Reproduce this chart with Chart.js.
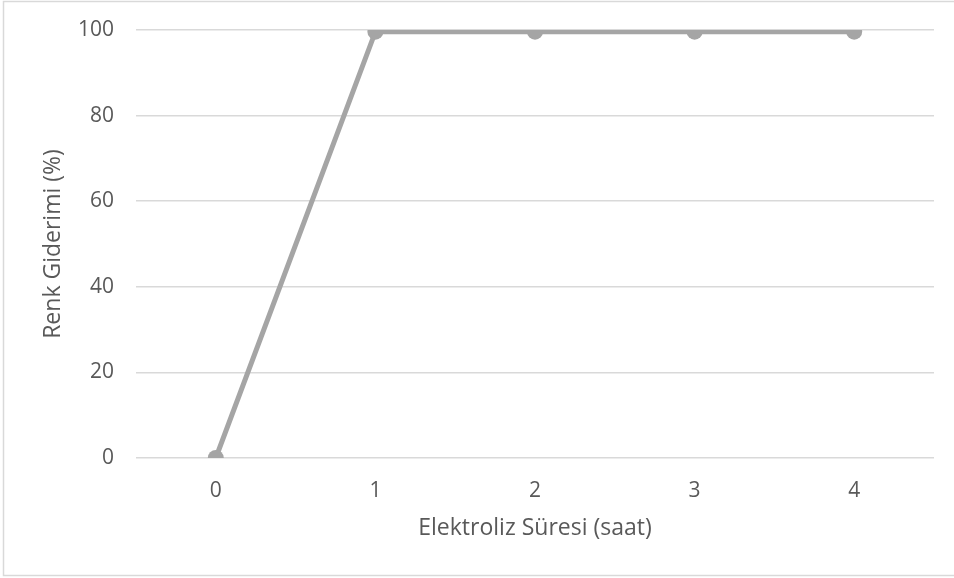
<!DOCTYPE html>
<html>
<head>
<meta charset="utf-8">
<script src="https://cdn.jsdelivr.net/npm/chart.js@4/dist/chart.umd.min.js"></script>
<style>
  html, body { margin: 0; padding: 0; background: #fff; }
</style>
</head>
<body>
<canvas id="grafik" width="954" height="578"></canvas>
<script>
// veriler
var sureler = ["0", "1", "2", "3", "4"];
var renkGiderimi = [0, 99.6, 99.6, 99.6, 99.6];
var yEtiketleri = [0, 20, 40, 60, 80, 100];

var yaziRengi = "#595959";
var cizgiRengi = "#a5a5a5";

// dış çerçeve
var cerceve = {
  id: 'cerceve',
  beforeDraw: function (c) {
    var ctx = c.ctx;
    ctx.save();
    ctx.fillStyle = "#fff";
    ctx.fillRect(0, 0, c.width, c.height);
    ctx.strokeStyle = "#d9d9d9";
    ctx.lineWidth = 1.5;
    ctx.strokeRect(3.5, 1.5, 956, 574);
    ctx.restore();
  }
};

var config = {
  type: 'line',
  data: {
    labels: sureler,
    datasets: [{
      data: renkGiderimi,
      borderColor: cizgiRengi,
      backgroundColor: cizgiRengi,
      borderWidth: 5,
      pointRadius: 8,
      pointHoverRadius: 8,
      pointBorderWidth: 0,
      tension: 0
    }]
  },
  options: {
    responsive: false,
    animation: false,
    layout: { padding: { top: 30, right: 20, bottom: 0, left: 0 } },
    plugins: { legend: { display: false }, tooltip: { enabled: false } },
    scales: {
      x: {
        offset: true,
        grid: { display: false },
        border: { display: false },
        ticks: { color: yaziRengi, font: { family: "Open Sans", size: 21 }, padding: 12 },
        title: {
          display: true,
          text: "Elektroliz Süresi (saat)",
          color: yaziRengi,
          font: { family: "Open Sans", size: 23 },
          padding: { top: 0, bottom: 36 }
        },
        afterFit: function (eksen) { eksen.height = 120; }
      },
      y: {
        min: 0,
        max: 100,
        afterBuildTicks: function (eksen) {
          eksen.ticks = yEtiketleri.map(function (v) { return { value: v }; });
        },
        grid: { color: "#d9d9d9", lineWidth: 1.5, drawTicks: false },
        border: { display: false },
        ticks: { color: yaziRengi, font: { family: "Open Sans", size: 21 }, padding: 22 },
        title: {
          display: true,
          text: "Renk Giderimi (%)",
          color: yaziRengi,
          font: { family: "Open Sans", size: 23 },
          padding: { top: 40, bottom: 0 }
        },
        afterFit: function (eksen) {
          eksen.width = 136;
          eksen.paddingTop = 0;
          eksen.paddingBottom = 0;
        }
      }
    }
  },
  plugins: [cerceve]
};

var chart = new Chart(document.getElementById("grafik").getContext("2d"), config);
</script>
</body>
</html>
